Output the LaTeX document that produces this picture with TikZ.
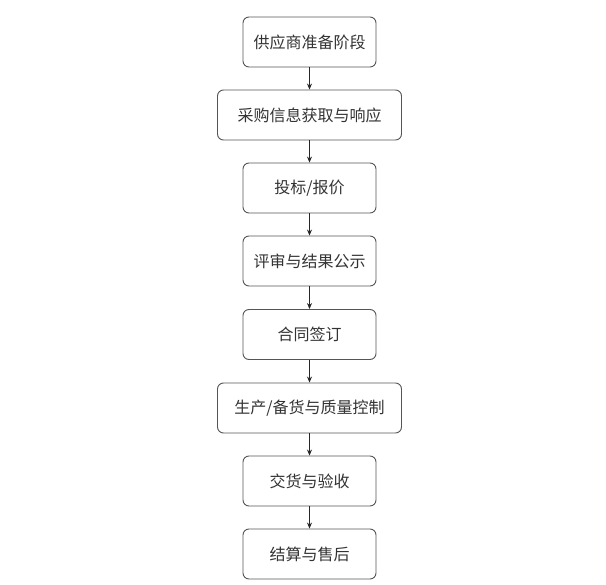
\documentclass[tikz,border=0pt]{standalone}
\usepackage{fontspec}
\newfontfamily\cjk{Noto Sans CJK SC}
\usetikzlibrary{arrows.meta}
\definecolor{txt}{HTML}{333333}
\definecolor{edge}{HTML}{555555}
\begin{document}
\begin{tikzpicture}[x=1pt,y=-1pt,
  box/.style={draw=edge, line width=0.9pt, rounded corners=6pt, fill=white,
    minimum height=50pt, text=txt, font=\cjk\fontsize{16}{18}\selectfont, inner sep=0pt},
  narrow/.style={box, minimum width=133pt},
  wide/.style={box, minimum width=184pt},
  link/.style={draw=black!85, line width=0.8pt, -{Stealth[length=6pt,width=5pt]}}]
\useasboundingbox (0,0) rectangle (606,585);
\node[narrow] (n1) at (309.5,42) {供应商准备阶段};
\node[wide]   (n2) at (309.5,115) {采购信息获取与响应};
\node[narrow] (n3) at (309.5,188) {投标/报价};
\node[narrow] (n4) at (309.5,261) {评审与结果公示};
\node[narrow] (n5) at (309.5,334.5) {合同签订};
\node[wide]   (n6) at (309.5,408) {生产/备货与质量控制};
\node[narrow] (n7) at (309.5,481) {交货与验收};
\node[narrow] (n8) at (309.5,554) {结算与售后};
\foreach \a/\b in {n1/n2,n2/n3,n3/n4,n4/n5,n5/n6,n6/n7,n7/n8}
  \draw[link] (\a) -- (\b);
\end{tikzpicture}
\end{document}
